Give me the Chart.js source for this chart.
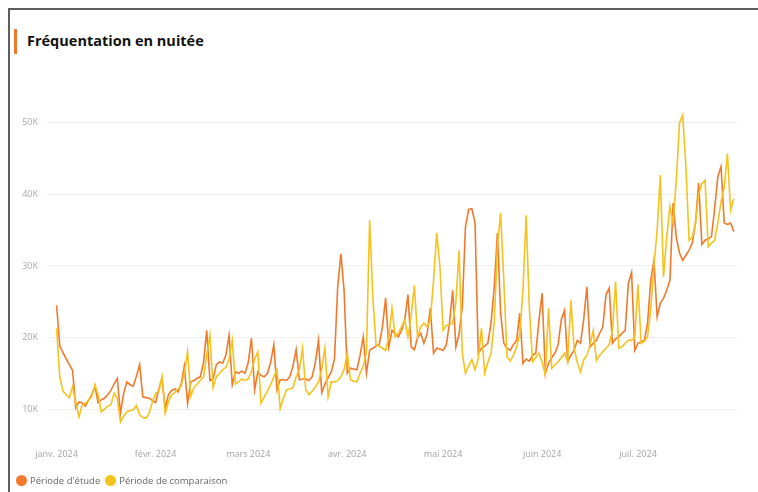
<!DOCTYPE html>
<html lang="fr">
<head>
<meta charset="utf-8">
<script src="https://cdn.jsdelivr.net/npm/chart.js@4.4.1/dist/chart.umd.min.js"></script>
<style>
  html, body { margin: 0; padding: 0; background: #fff; }
  body { width: 758px; height: 492px; position: relative; overflow: hidden; font-family: 'Open Sans', sans-serif; }
  .frame { position: absolute; left: 8px; top: 8px; width: 760px; height: 500px; border-top: 2px solid #5e5e5e; border-left: 2px solid #5e5e5e; }
  .accent { position: absolute; left: 14px; top: 29px; width: 3px; height: 25px; background: #f2792b; }
  .title { position: absolute; left: 27px; top: 31px; font-weight: 700; font-size: 14.5px; color: #111; }
  #wrap { position: absolute; left: 0; top: 0; width: 758px; height: 492px; }
  .legend { position: absolute; left: 16px; top: 472px; font-size: 9.5px; color: #666; white-space: nowrap; line-height: 16px; }
  .legend span { display: inline-block; vertical-align: middle; }
  .legend .dot { width: 11px; height: 11px; border-radius: 50%; margin-right: 3px; }
  .legend .item { margin-right: 5px; }
</style>
</head>
<body>
<div class="frame"></div>
<div class="accent"></div>
<div class="title">Fréquentation en nuitée</div>
<div id="wrap"><canvas id="chart"></canvas></div>
<div class="legend" id="legend"></div>
<script>
// day index 0 = 1 janv. 2024, last = 31 juil. 2024
const monthTicks = [0, 31, 60, 91, 121, 152, 182];
const monthLabels = ['janv. 2024', 'févr. 2024', 'mars 2024', 'avr. 2024', 'mai 2024', 'juin 2024', 'juil. 2024'];
const yTicks = [10, 20, 30, 40, 50];
const seriesNames = ["Période d'étude", 'Période de comparaison'];

// nuitées in thousands, one value per day (weeks start on Monday)
const study = [
  24.5, 18.8, 17.9, 17.0, 16.2, 15.4, 10.2,
  11.0, 10.9, 10.4, 11.2, 12.0, 13.2, 10.9,
  11.3, 11.5, 12.0, 12.6, 13.5, 14.3, 9.4,
  12.2, 13.8, 13.4, 13.2, 14.6, 16.2, 11.7,
  11.6, 11.5, 11.2, 10.9, 12.8, 14.3, 10.1,
  12.0, 12.6, 12.8, 12.4, 13.5, 16.0, 10.8,
  13.8, 14.0, 14.3, 14.5, 16.5, 21.0, 14.0,
  14.2, 16.2, 16.6, 16.4, 17.5, 20.3, 13.4,
  15.2, 15.0, 15.3, 15.0, 16.5, 19.9, 12.7,
  15.2, 14.7, 14.5, 15.0, 16.5, 19.0, 12.7,
  14.1, 14.1, 14.0, 14.5, 16.0, 18.3, 14.1,
  14.2, 14.2, 14.0, 14.5, 16.5, 19.6, 12.3,
  13.5, 14.4, 15.2, 17.0, 27.1, 31.7, 26.6,
  15.0, 15.7, 15.6, 15.5, 17.5, 20.1, 15.0,
  18.2, 18.5, 18.8, 19.0, 21.5, 25.5, 18.7,
  21.0, 20.5, 20.1, 21.0, 22.5, 26.0, 18.7,
  18.3, 20.0, 20.6, 19.2, 20.5, 24.1, 17.8,
  18.5, 18.4, 18.2, 19.0, 22.0, 26.6, 18.7,
  20.5, 24.3, 35.5, 37.9, 38.0, 36.0, 17.8,
  18.5, 18.8, 19.2, 22.0, 27.0, 34.6, 23.4,
  19.2, 18.5, 18.2, 19.0, 19.6, 23.4, 16.4,
  17.0, 16.7, 17.5, 17.8, 22.4, 26.2, 15.0,
  16.4, 17.2, 17.8, 19.0, 22.5, 23.8, 16.6,
  17.5, 18.2, 19.6, 19.2, 22.5, 27.1, 18.7,
  19.2, 19.6, 20.6, 21.5, 26.0, 26.9, 19.2,
  19.8, 20.1, 20.6, 21.0, 27.6, 29.1, 18.2,
  19.2, 19.4, 19.6, 22.0, 28.0, 30.8, 22.9,
  24.8, 25.5, 26.6, 28.0, 38.8, 34.0, 31.8,
  30.8, 31.5, 32.2, 33.2, 36.0, 41.6, 33.0,
  33.6, 33.8, 34.1, 38.0, 42.5, 43.9, 36.0,
  35.8, 36.0, 34.8
];

const comparison = [
  21.3, 14.5, 12.5, 12.0, 11.6, 13.1, 11.0,
  8.9, 10.6, 10.8, 11.2, 11.8, 13.4, 12.0,
  9.6, 10.0, 10.4, 10.6, 12.2, 11.5, 8.2,
  9.0, 9.6, 9.8, 9.9, 10.5, 9.2, 8.8,
  8.7, 9.5, 11.0, 12.2, 12.5, 14.5, 9.4,
  11.0, 12.0, 12.3, 12.8, 13.2, 15.0, 18.0,
  11.8, 13.0, 13.5, 14.0, 14.5, 17.5, 20.3,
  13.0, 14.5, 15.0, 15.5, 15.8, 17.0, 19.6,
  13.5, 13.8, 14.2, 14.0, 14.2, 15.2, 17.0,
  18.0, 10.8, 11.7, 12.5, 13.4, 14.5, 15.5,
  10.1, 11.5, 12.7, 12.8, 13.0, 14.5, 15.5,
  18.5, 12.7, 12.0, 12.5, 13.1, 13.8, 15.5,
  18.5, 11.7, 13.8, 13.8, 14.0, 14.5, 15.5,
  17.8, 14.1, 13.9, 13.8, 15.0, 16.0, 18.0,
  36.4, 25.7, 19.0, 18.8, 18.5, 18.2, 20.0,
  24.1, 20.1, 20.6, 21.5, 22.4, 20.1, 23.0,
  27.3, 20.1, 21.5, 22.0, 21.5, 22.4, 28.0,
  34.6, 29.9, 21.0, 21.7, 21.8, 22.0, 25.0,
  32.2, 17.8, 15.0, 16.0, 16.9, 15.5, 17.0,
  21.3, 15.0, 16.5, 17.8, 22.0, 32.7, 37.4,
  28.0, 17.3, 16.7, 17.5, 18.7, 20.5, 26.6,
  37.1, 24.0, 16.6, 17.2, 17.8, 16.5, 14.8,
  24.1, 15.7, 16.2, 16.6, 17.2, 17.8, 16.6,
  25.2, 18.5, 16.5, 15.2, 16.9, 17.5, 19.0,
  21.0, 16.8, 17.5, 18.0, 18.5, 19.0, 21.0,
  27.8, 18.5, 18.7, 19.2, 19.6, 19.6, 20.0,
  27.4, 19.2, 19.5, 20.1, 24.0, 30.0, 35.0,
  42.7, 28.5, 34.0, 38.3, 36.0, 42.0, 50.0,
  51.1, 43.9, 33.6, 34.0, 36.0, 40.0, 41.5,
  42.0, 32.7, 33.2, 33.6, 36.0, 39.0, 41.0,
  45.7, 37.8, 39.4
];

const ORANGE = '#f2792b';
const YELLOW = '#f6c21c';
const colors = [ORANGE, YELLOW];

const toPoints = (vals) => vals.map((v, i) => ({ x: i, y: v }));

// simple html legend, Power BI style
document.getElementById('legend').innerHTML = seriesNames
  .map((name, i) => `<span class="item"><span class="dot" style="background:${colors[i]}"></span><span>${name}</span></span>`)
  .join('');

new Chart(document.getElementById('chart'), {
  type: 'line',
  data: {
    datasets: [
      {
        label: seriesNames[0],
        data: toPoints(study),
        borderColor: ORANGE,
        backgroundColor: ORANGE,
        borderWidth: 1.6,
        pointRadius: 0,
        tension: 0,
        order: 1,
      },
      {
        label: seriesNames[1],
        data: toPoints(comparison),
        borderColor: YELLOW,
        backgroundColor: YELLOW,
        borderWidth: 1.6,
        pointRadius: 0,
        tension: 0,
        order: 0, // drawn on top
      },
    ],
  },
  options: {
    responsive: true,
    maintainAspectRatio: false,
    animation: false,
    layout: { padding: { left: 7, top: 80, right: 21, bottom: 20 } },
    plugins: {
      tooltip: { enabled: false },
      legend: { display: false },
    },
    scales: {
      x: {
        type: 'linear',
        min: -3,
        max: 213,
        afterBuildTicks: (s) => { s.ticks = monthTicks.map((v) => ({ value: v })); },
        afterFit: (s) => { s.height = 41.5; },
        grid: { display: false },
        border: { display: false },
        ticks: {
          autoSkip: false,
          maxRotation: 0,
          padding: 11,
          color: '#a3a3a3',
          font: { family: "'Open Sans', sans-serif", size: 9 },
          callback: (v) => monthLabels[monthTicks.indexOf(v)],
        },
      },
      y: {
        min: 7,
        max: 56,
        afterBuildTicks: (s) => { s.ticks = yTicks.map((v) => ({ value: v })); },
        afterFit: (s) => { s.width = 40; },
        grid: { color: '#efefef', drawTicks: false },
        border: { display: false },
        ticks: {
          padding: 9,
          color: '#a8a8a8',
          font: { family: "'Open Sans', sans-serif", size: 9 },
          callback: (v) => v + 'K',
        },
      },
    },
  },
});
</script>
</body>
</html>
